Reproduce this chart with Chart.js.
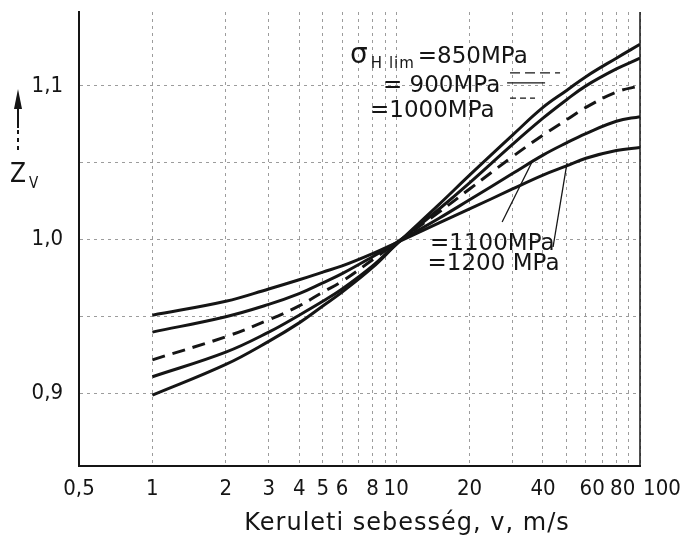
<!DOCTYPE html>
<html>
<head>
<meta charset="utf-8">
<script src="https://cdn.jsdelivr.net/npm/chart.js@4.4.1/dist/chart.umd.min.js"></script>
<style>
  body { margin: 0; background: #fff; }
  #chart { display: block; }
</style>
</head>
<body>
<canvas id="chart" width="684" height="541"></canvas>
<script>
// Kerületi sebesség, v (m/s)
const speed = [1, 2, 3, 4, 5, 6, 8, 10, 15, 20, 30, 40, 50, 60, 80, 100];

// Z_V (sigma_Hlim = 850 ... 1200 MPa)
const zv850  = [0.899, 0.919, 0.934, 0.946, 0.957, 0.966, 0.982, 0.997, 1.023, 1.042, 1.068, 1.086, 1.097, 1.106, 1.118, 1.127];
const zv900  = [0.911, 0.927, 0.940, 0.951, 0.960, 0.968, 0.983, 0.997, 1.020, 1.037, 1.062, 1.079, 1.091, 1.100, 1.111, 1.118];
const zv1000 = [0.922, 0.937, 0.948, 0.957, 0.966, 0.973, 0.987, 0.998, 1.018, 1.033, 1.054, 1.068, 1.078, 1.086, 1.096, 1.100];
const zv1100 = [0.940, 0.950, 0.958, 0.965, 0.972, 0.978, 0.989, 0.998, 1.014, 1.026, 1.043, 1.055, 1.063, 1.069, 1.077, 1.080];
const zv1200 = [0.951, 0.960, 0.968, 0.974, 0.979, 0.983, 0.991, 0.998, 1.011, 1.020, 1.033, 1.042, 1.048, 1.053, 1.058, 1.060];

// axis ticks (empty label = grid line only)
const xTickValues = [0.5, 1, 2, 3, 4, 5, 6, 7, 8, 9, 10, 20, 30, 40, 50, 60, 70, 80, 90, 100];
const xTickLabels = ['0,5', '1', '2', '3', '4', '5', '6', '', '8', '', '10', '20', '', '40', '', '  60', '', '  80', '', '       100'];
const yTickValues = [0.9, 0.95, 1.0, 1.05, 1.1];
const yTickLabels = ['0,9', '', '1,0', '', '1,1'];

const ink = '#151515';
const condensed = '"DejaVu Sans Condensed", "DejaVu Sans", sans-serif';
const plain = '"DejaVu Sans", sans-serif';
const tickFont = { family: condensed, size: 22 };

function series(vals) {
  return speed.map((v, i) => ({ x: v, y: vals[i] }));
}

function curve(vals, dashed) {
  return {
    data: series(vals),
    borderColor: ink,
    borderWidth: 3,
    borderDash: dashed ? [13, 8] : [],
    pointRadius: 0,
    tension: 0.4,
    fill: false,
  };
}

// labels for the curves, anchored in data units (v, Zv)
const notes = [
  { v: 6.47, z: 1.1149, parts: [['σ', 28, 0, 0], ['H lim', 15, 5, 1], ['=850MPa', 23, 0, 0]] },
  { v: 8.83, z: 1.0960, parts: [['= 900MPa', 23, 0, 0]] },
  { v: 7.81, z: 1.0798, parts: [['=1000MPa', 23, 0, 0]] },
  { v: 13.77, z: 0.9934, parts: [['=1100MPa', 23, 0, 0]] },
  { v: 13.45, z: 0.9804, parts: [['=1200 MPa', 23, 0, 0]] },
];
const leaders = [
  { from: [29.3, 1.1084], to: [47, 1.1084], dash: [10, 5] },
  { from: [28.5, 1.1019], to: [40.8, 1.1019], dash: [] },
  { from: [29.3, 1.0921], to: [37.1, 1.0921], dash: [6, 4] },
  { from: [27.2, 1.0116], to: [36.4, 1.0518], dash: [] },
  { from: [44.0, 0.9953], to: [50.2, 1.0499], dash: [] },
];

const decorations = {
  id: 'decorations',
  afterDatasetsDraw(chart) {
    const { ctx, scales: { x, y }, chartArea } = chart;
    ctx.save();
    // right edge line at v = 100
    ctx.strokeStyle = ink;
    ctx.lineWidth = 1.5;
    ctx.beginPath();
    ctx.moveTo(x.getPixelForValue(100), chartArea.top);
    ctx.lineTo(x.getPixelForValue(100), chartArea.bottom);
    ctx.stroke();

    // leader lines
    ctx.lineWidth = 1.3;
    leaders.forEach((l) => {
      ctx.setLineDash(l.dash);
      ctx.beginPath();
      ctx.moveTo(x.getPixelForValue(l.from[0]), y.getPixelForValue(l.from[1]));
      ctx.lineTo(x.getPixelForValue(l.to[0]), y.getPixelForValue(l.to[1]));
      ctx.stroke();
    });
    ctx.setLineDash([]);

    // curve labels
    ctx.fillStyle = ink;
    ctx.textBaseline = 'alphabetic';
    ctx.textAlign = 'left';
    notes.forEach((n) => {
      let px = x.getPixelForValue(n.v);
      const py = y.getPixelForValue(n.z);
      n.parts.forEach(([txt, size, drop, spacing]) => {
        ctx.font = size + 'px ' + plain;
        ctx.letterSpacing = spacing + 'px';
        ctx.fillText(txt, px, py + drop);
        px += ctx.measureText(txt).width + 3;
      });
    });
    ctx.letterSpacing = '0px';

    // x axis title
    ctx.textAlign = 'center';
    ctx.font = '24px ' + plain;
    ctx.letterSpacing = '1px';
    ctx.fillText('Keruleti sebesség, v, m/s', 407, 530);
    ctx.letterSpacing = '0px';
    ctx.textAlign = 'left';

    // y axis title: arrow + Z_V
    const ax = chartArea.left - 61;
    ctx.lineWidth = 2;
    ctx.beginPath();
    ctx.moveTo(ax, 105);
    ctx.lineTo(ax, 128);
    ctx.stroke();
    ctx.setLineDash([4, 4]);
    ctx.beginPath();
    ctx.moveTo(ax, 130);
    ctx.lineTo(ax, 152);
    ctx.stroke();
    ctx.setLineDash([]);
    ctx.beginPath();
    ctx.moveTo(ax, 89);
    ctx.lineTo(ax - 4, 109);
    ctx.lineTo(ax + 4, 109);
    ctx.closePath();
    ctx.fill();
    ctx.font = '26px ' + condensed;
    ctx.fillText('Z', ax - 8, 182);
    ctx.font = '15px ' + condensed;
    ctx.fillText('V', ax + 11, 188);
    ctx.restore();
  },
};

new Chart('chart', {
  type: 'line',
  data: {
    datasets: [
      curve(zv850, false),
      curve(zv900, false),
      curve(zv1000, true),
      curve(zv1100, false),
      curve(zv1200, false),
    ],
  },
  options: {
    responsive: false,
    animation: false,
    layout: { padding: { top: 12, right: 44, left: 0, bottom: 0 } },
    plugins: { legend: { display: false }, tooltip: { enabled: false } },
    scales: {
      x: {
        type: 'logarithmic',
        min: 0.5,
        max: 100,
        afterBuildTicks: (s) => { s.ticks = xTickValues.map((v) => ({ value: v })); },
        afterFit: (s) => { s.height = 75; s.paddingLeft = 0; s.paddingRight = 0; },
        ticks: {
          autoSkip: false,
          maxRotation: 0,
          padding: 10,
          color: ink,
          font: tickFont,
          callback: (val, i) => xTickLabels[i],
        },
        grid: { color: '#9c9c9c', lineWidth: 1, drawTicks: false },
        border: { display: true, color: ink, width: 2, dash: [3, 4] },
      },
      y: {
        min: 0.853,
        max: 1.148,
        afterBuildTicks: (s) => { s.ticks = yTickValues.map((v) => ({ value: v })); },
        afterFit: (s) => { s.width = 79; s.paddingTop = 0; s.paddingBottom = 0; },
        ticks: {
          padding: 16,
          color: ink,
          font: tickFont,
          callback: (val, i) => yTickLabels[i],
        },
        grid: { color: '#9c9c9c', lineWidth: 1, drawTicks: false },
        border: { display: true, color: ink, width: 2, dash: [3, 4] },
      },
    },
  },
  plugins: [decorations],
});
</script>
</body>
</html>
